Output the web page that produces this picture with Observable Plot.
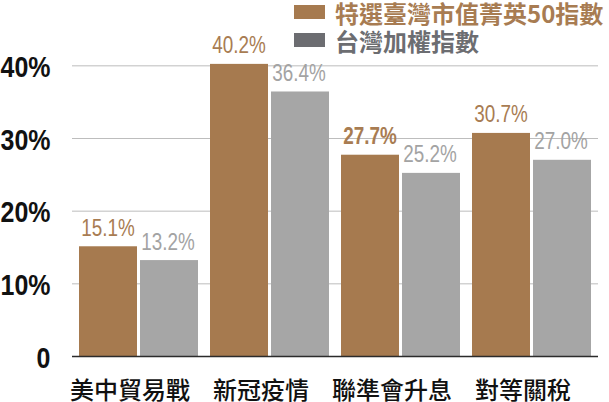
<!DOCTYPE html>
<html>
<head>
<meta charset="utf-8">
<script src="https://cdn.jsdelivr.net/npm/d3@7"></script>
<script src="https://cdn.jsdelivr.net/npm/@observablehq/plot@0.6"></script>
<style>
  html, body { margin: 0; padding: 0; background: #fff; }
  #wrap { position: relative; width: 609px; height: 402px; overflow: hidden; }
  .lg { position: absolute; font-family: "Noto Sans CJK TC", "Noto Sans", sans-serif; font-size: 24px; line-height: 24px; font-weight: 700; white-space: nowrap; }
  .sw { position: absolute; width: 31px; height: 14px; }
</style>
</head>
<body>
<div id="wrap"></div>
<script>
const categories = ["美中貿易戰", "新冠疫情", "聯準會升息", "對等關稅"];
const seriesNames = ["特選臺灣市值菁英50指數", "台灣加權指數"];
const eliteValues = [15.1, 40.2, 27.7, 30.7];
const taiexValues = [13.2, 36.4, 25.2, 27.0];
const eliteLabels = ["15.1%", "40.2%", "27.7%", "30.7%"];
const taiexLabels = ["13.2%", "36.4%", "25.2%", "27.0%"];
const yTicks = [0, 10, 20, 30, 40];
const boldLabel = "27.7%";

const brown = "#a67a4f";
const brownText = "#a87c52";
const grayBar = "#a6a6a6";
const grayText = "#a3a3a3";
const legendGray = "#6c6d71";

const elite = categories.map((c, i) => ({cat: c, v: eliteValues[i], label: eliteLabels[i]}));
const taiex = categories.map((c, i) => ({cat: c, v: taiexValues[i], label: taiexLabels[i]}));

const numFont = '"Liberation Sans", Arial, sans-serif';
const W = 609, H = 402;
const inset = 61;

const chart = Plot.plot({
  width: W,
  height: H,
  marginTop: 29,
  marginBottom: 46,
  marginLeft: 72,
  marginRight: 11,
  style: {background: "transparent", overflow: "visible"},
  x: {domain: categories, paddingInner: 0.09, paddingOuter: 0.045, axis: null, label: null},
  y: {domain: [0, 45], axis: null, label: null},
  marks: [
    Plot.gridY(yTicks.filter(d => d > 0), {stroke: "#bdbdbd", strokeOpacity: 1, strokeWidth: 1}),
    Plot.barY(elite, {x: "cat", y: "v", fill: brown, insetLeft: 0, insetRight: inset}),
    Plot.barY(taiex, {x: "cat", y: "v", fill: grayBar, insetLeft: inset, insetRight: 0}),
    Plot.text(elite.filter(d => d.label !== boldLabel), {x: "cat", y: "v", text: "label", dx: -31, dy: -11, lineAnchor: "bottom", fill: brownText, fontSize: 23, fontFamily: numFont, fontWeight: 400}),
    Plot.text(elite.filter(d => d.label === boldLabel), {x: "cat", y: "v", text: "label", dx: -31, dy: -11, lineAnchor: "bottom", fill: brownText, fontSize: 23, fontFamily: numFont, fontWeight: 700}),
    Plot.text(taiex, {x: "cat", y: "v", text: "label", dx: 29, dy: -11, lineAnchor: "bottom", fill: grayText, fontSize: 23, fontFamily: numFont, fontWeight: 400}),
    Plot.ruleY([0], {stroke: "#2b2b2b", strokeWidth: 1.6}),
    Plot.axisY({ticks: yTicks, tickSize: 0, tickPadding: 22, line: true, stroke: "#4a4a4a", fill: "#111", label: null,
      tickFormat: d => d === 0 ? "0" : d + "%", fontSize: 29, fontFamily: numFont, fontWeight: 700, dy: 2}),
    Plot.axisX({tickSize: 0, tickPadding: 25, fontSize: 24, label: null, fontFamily: '"Noto Sans CJK TC", sans-serif', fontWeight: 500, fill: "#111", dx: -9})
  ]
});

const wrap = document.getElementById("wrap");
wrap.appendChild(chart);

// condense numeric text horizontally to mimic the reference's condensed face
chart.querySelectorAll("text").forEach(t => {
  const s = t.textContent.trim();
  let ratio = null;
  if (/^\d+\.\d%$/.test(s)) ratio = 0.82;
  else if (/^(\d+%|0)$/.test(s)) ratio = 0.86;
  if (ratio == null) return;
  const L = t.getComputedTextLength();
  if (L > 0) {
    t.setAttribute("textLength", (L * ratio).toFixed(2));
    t.setAttribute("lengthAdjust", "spacingAndGlyphs");
  }
});

const legendItems = [
  {name: seriesNames[0], sw: brown, txt: brownText, top: 5},
  {name: seriesNames[1], sw: legendGray, txt: legendGray, top: 33}
];
legendItems.forEach(it => {
  const s = document.createElement("div");
  s.className = "sw";
  s.style.left = "294px";
  s.style.top = it.top + "px";
  s.style.background = it.sw;
  wrap.appendChild(s);
  const t = document.createElement("div");
  t.className = "lg";
  t.style.left = "335px";
  t.style.top = (it.top - 4) + "px";
  t.style.color = it.txt;
  t.textContent = it.name;
  wrap.appendChild(t);
});
</script>
</body>
</html>
